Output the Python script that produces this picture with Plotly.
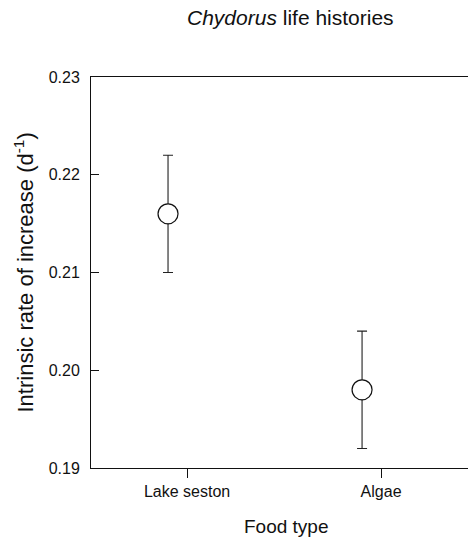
import plotly.graph_objects as go

# Life-history data: intrinsic rate of increase by food type
food_types = ["Lake seston", "Algae"]
r_mean = [0.216, 0.198]
r_err = [0.006, 0.006]

y_ticks = [0.19, 0.20, 0.21, 0.22, 0.23]
y_ticklabels = ["0.19", "0.20", "0.21", "0.22", "0.23"]

FONT = "Liberation Sans, Arial, Helvetica, sans-serif"
W, H = 468, 539
ML, MT, MB, MR = 91, 77, 71, 0

# points sit slightly left of their category tick
cat_pos = list(range(len(food_types)))
point_shift = -0.098
point_x = [p + point_shift for p in cat_pos]

fig = go.Figure()
fig.add_trace(go.Scatter(
    x=point_x,
    y=r_mean,
    mode="markers",
    marker=dict(symbol="circle", size=20, color="white",
                line=dict(color="#111111", width=1.2)),
    error_y=dict(type="data", array=r_err, visible=True,
                 color="#222222", thickness=1.1, width=5),
    showlegend=False,
    cliponaxis=False,
))

fig.update_layout(
    width=W, height=H,
    margin=dict(l=ML, r=MR, t=MT, b=MB, pad=0),
    paper_bgcolor="white",
    plot_bgcolor="white",
    font=dict(family=FONT, color="#111111"),
    xaxis=dict(
        range=[-0.495, 1.448],
        tickmode="array",
        tickvals=cat_pos,
        ticktext=food_types,
        ticks="outside", ticklen=9, tickwidth=1, tickcolor="#111111",
        tickfont=dict(size=16, family=FONT, color="#111111"),
        showline=True, linecolor="#111111", linewidth=1,
        mirror=True,
        showgrid=False, zeroline=False,
    ),
    yaxis=dict(
        range=[0.19, 0.23],
        tickmode="array",
        tickvals=y_ticks,
        ticktext=y_ticklabels,
        ticks="inside", ticklen=8, tickwidth=1, tickcolor="#111111",
        tickfont=dict(size=16, family=FONT, color="#111111"),
        ticklabelstandoff=7,
        showline=True, linecolor="#111111", linewidth=1,
        mirror=False,
        showgrid=False, zeroline=False,
    ),
    annotations=[
        dict(text="<i>Chydorus</i> life histories",
             xref="paper", yref="paper",
             x=(290 - ML) / (W - ML - MR), y=1 + (MT - 18) / (H - MT - MB),
             xanchor="center", yanchor="middle", showarrow=False,
             font=dict(size=21, family=FONT, color="#111111")),
        dict(text="Food type",
             xref="paper", yref="paper",
             x=(286 - ML) / (W - ML - MR), y=-(526 - (H - MB)) / (H - MT - MB),
             xanchor="center", yanchor="middle", showarrow=False,
             font=dict(size=19, family=FONT, color="#111111")),
        dict(text="Intrinsic rate of increase (d<sup>-1</sup>)",
             xref="paper", yref="paper",
             x=-(ML - 23) / (W - ML - MR), y=0.5,
             xanchor="center", yanchor="middle", textangle=-90,
             showarrow=False,
             font=dict(size=22, family=FONT, color="#111111")),
    ],
)

fig.write_html("out.html")
